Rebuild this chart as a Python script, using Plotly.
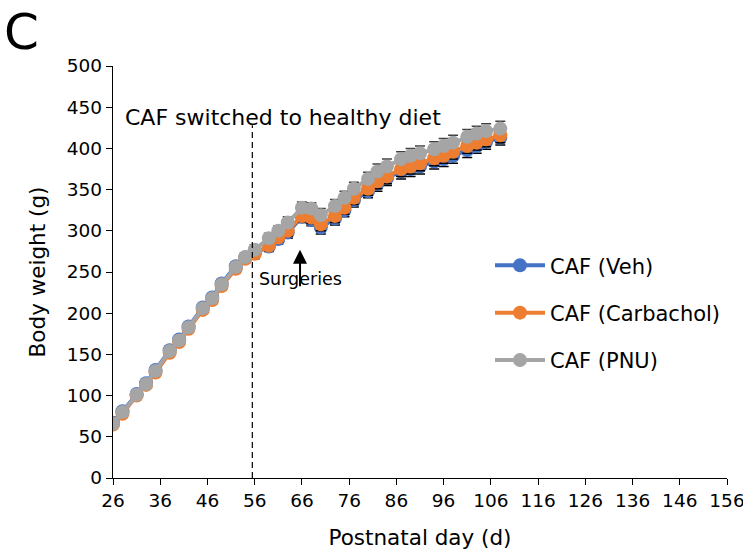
import plotly.graph_objects as go

# Postnatal day of each weigh-in
days = [26, 28, 31, 33, 35, 38, 40, 42, 45, 47, 49, 52, 54, 56, 59, 61, 63, 66,
        68, 70, 73, 75, 77, 80, 82, 84, 87, 89, 91, 94, 96, 98, 101, 103, 105, 108]

# Mean body weight (g) per group
veh = [67, 81, 102, 115, 131, 155, 168, 184, 207, 219, 236, 257, 268, 273, 281, 290, 298, 317,
       313, 304, 315, 325, 337, 348, 357, 364, 372, 375, 378, 384, 387, 391, 398, 403, 408, 413]
carbachol = [65, 78, 100, 113, 128, 152, 165, 181, 204, 216, 233, 254, 266, 272, 282, 292, 300, 318,
             316, 308, 318, 328, 340, 351, 360, 366, 375, 378, 382, 388, 391, 396, 403, 407, 411, 416]
pnu = [66, 80, 101, 114, 130, 154, 167, 183, 206, 218, 235, 256, 268, 277, 291, 300, 310, 328,
       327, 319, 330, 340, 351, 363, 372, 378, 387, 391, 394, 399, 403, 407, 414, 418, 421, 424]

# SEM (g)
veh_sem = [2, 2, 3, 3, 3, 4, 4, 4, 4, 5, 5, 5, 5, 6, 6, 6, 7, 7,
           7, 8, 8, 8, 8, 8, 9, 9, 9, 9, 9, 9, 9, 9, 9, 9, 9, 9]
carb_sem = [2, 2, 3, 3, 3, 4, 4, 4, 4, 5, 5, 5, 5, 6, 6, 6, 7, 7,
            7, 8, 8, 8, 8, 8, 9, 9, 9, 9, 9, 9, 9, 9, 9, 9, 9, 9]
pnu_sem = [2, 2, 3, 3, 3, 4, 4, 4, 4, 5, 5, 5, 5, 6, 6, 6, 7, 7,
           7, 8, 8, 8, 8, 8, 9, 9, 9, 9, 9, 9, 9, 9, 9, 9, 9, 9]
zeros = [0] * len(days)

x_ticks = list(range(26, 157, 10))
y_ticks = list(range(0, 501, 50))

FONT = "DejaVu Sans"

series = [
    ("CAF (Veh)", veh, veh_sem, "#4472C4", "down"),
    ("CAF (Carbachol)", carbachol, carb_sem, "#ED7D31", "down"),
    ("CAF (PNU)", pnu, pnu_sem, "#A5A5A5", "up"),
]

fig = go.Figure()
for i, (name, vals, sem, color, direction) in enumerate(series):
    if direction == "up":
        err = dict(type="data", symmetric=False, array=sem, arrayminus=zeros,
                   color="#404040", thickness=1.5, width=5)
    else:
        err = dict(type="data", symmetric=False, array=zeros, arrayminus=sem,
                   color="black", thickness=1.5, width=5)
    fig.add_trace(go.Scatter(
        x=days, y=vals, name=name, mode="lines+markers",
        line=dict(color=color, width=4),
        marker=dict(color=color, size=14),
        error_y=err,
        legendgroup=f"g{i}",
    ))

# Diet switch marker
fig.add_shape(type="line", x0=55.5, x1=55.5, y0=0, y1=428, xref="x", yref="y",
              line=dict(color="black", width=1.2, dash="6px,4px"))

annotations = [
    dict(text="CAF switched to healthy diet", x=28.1, y=438, xref="x", yref="y",
         xanchor="left", yanchor="middle", showarrow=False,
         font=dict(family=FONT, size=22, color="black")),
    dict(text="", x=65.6, y=277, ax=65.6, ay=231, xref="x", yref="y",
         axref="x", ayref="y", showarrow=True, arrowhead=2, arrowsize=1.4,
         arrowwidth=2, arrowcolor="black"),
    dict(text="Surgeries", x=65.6, y=241.5, xref="x", yref="y",
         xanchor="center", yanchor="middle", showarrow=False,
         font=dict(family=FONT, size=17.5, color="black")),
    dict(text="C", x=-0.181, y=1.158, xref="paper", yref="paper",
         xanchor="left", yanchor="top", showarrow=False,
         font=dict(family=FONT, size=50, color="black")),
]

fig.update_layout(
    width=743, height=550,
    margin=dict(l=113, r=16, t=66, b=72),
    paper_bgcolor="white", plot_bgcolor="white",
    font=dict(family=FONT, size=18.5, color="black"),
    showlegend=True,
    legend=dict(x=0.614, y=0.565, xanchor="left", yanchor="top",
                font=dict(family=FONT, size=21, color="black"),
                itemwidth=50, tracegroupgap=17, bgcolor="rgba(0,0,0,0)"),
    annotations=annotations,
    xaxis=dict(range=[26, 156], tickvals=x_ticks, ticktext=[str(v) for v in x_ticks],
               showgrid=False, zeroline=False, showline=True, linecolor="black",
               linewidth=1.3, ticks="outside", ticklen=6, tickcolor="black",
               tickwidth=1.3, tickfont=dict(family=FONT, size=18.5),
               ticklabeloverflow="allow", automargin=False,
               title=dict(text="Postnatal day (d)", font=dict(family=FONT, size=21.5),
                          standoff=20)),
    yaxis=dict(range=[0, 500], tickvals=y_ticks, ticktext=[str(v) for v in y_ticks],
               showgrid=False, zeroline=False, showline=True, linecolor="black",
               linewidth=1.3, ticks="outside", ticklen=6, tickcolor="black",
               tickwidth=1.3, tickfont=dict(family=FONT, size=18.5),
               automargin=False,
               title=dict(text="Body weight (g)", font=dict(family=FONT, size=21.5),
                          standoff=15)),
)

fig.write_html("out.html")
